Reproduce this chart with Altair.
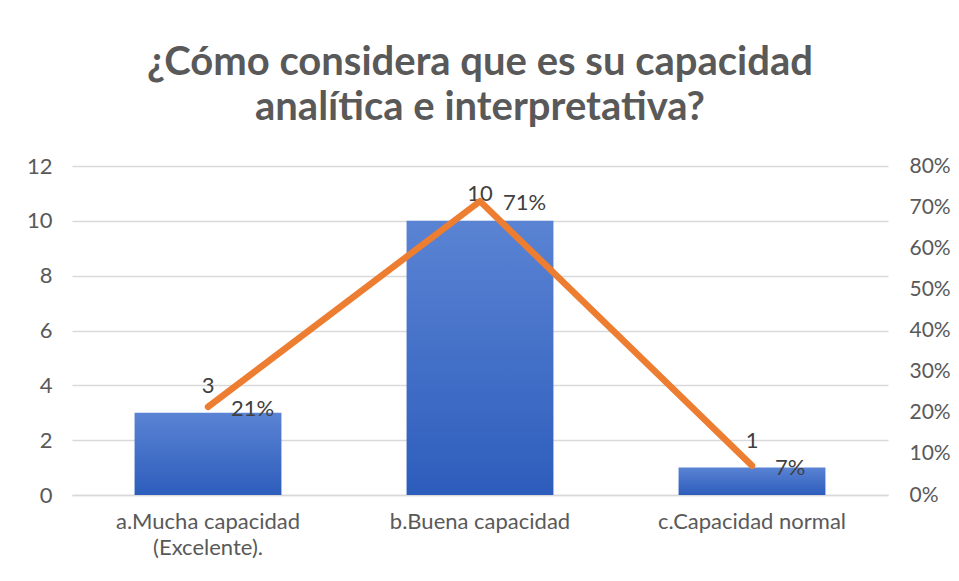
import altair as alt
import pandas as pd

title_lines = ["¿Cómo considera que es su capacidad", "analítica e interpretativa?"]
categories = ["a.Mucha capacidad (Excelente).", "b.Buena capacidad", "c.Capacidad normal"]
counts = [3, 10, 1]
percents = [0.2143, 0.7143, 0.0714]
count_ticks = [0, 2, 4, 6, 8, 10, 12]
pct_ticks = [0, 0.1, 0.2, 0.3, 0.4, 0.5, 0.6, 0.7, 0.8]

df = pd.DataFrame({"cat": categories, "count": counts, "pct": percents})

FONT = "Lato"
GREY = "#595959"
FS = 22

x_enc = alt.X(
    "cat:N",
    sort=categories,
    title=None,
    scale=alt.Scale(paddingInner=0.46, paddingOuter=0.23),
    axis=alt.Axis(
        labelAngle=0,
        labelExpr="split(replace(datum.label, ' (', '|('), '|')",
        labelFont=FONT,
        labelFontSize=FS,
        labelColor=GREY,
        labelPadding=16,
        labelLineHeight=26,
        labelLimit=0,
        ticks=False,
        domain=True,
        domainColor="#d9d9d9",
        domainWidth=1.5,
        grid=False,
    ),
)

bar_base = alt.Chart(df).encode(
    x=x_enc,
    y=alt.Y(
        "count:Q",
        title=None,
        scale=alt.Scale(domain=[0, 12]),
        axis=alt.Axis(
            values=count_ticks,
            labelFont=FONT,
            labelFontSize=FS,
            labelColor=GREY,
            labelPadding=20,
            ticks=False,
            domain=False,
            grid=True,
            gridColor="#d9d9d9",
            gridWidth=1.5,
        ),
    ),
)

bars = bar_base.mark_bar(
    color=alt.Gradient(
        gradient="linear",
        stops=[
            alt.GradientStop(color="#5a83d3", offset=0),
            alt.GradientStop(color="#2d5dbc", offset=1),
        ],
        x1=0, x2=0, y1=0, y2=1,
    )
)

count_labels = bar_base.mark_text(
    font=FONT, fontSize=FS, color="#404040", dy=-27, baseline="middle", align="center"
).encode(text="count:Q")

line_base = alt.Chart(df).encode(
    x=alt.X("cat:N", sort=categories),
    y=alt.Y(
        "pct:Q",
        title=None,
        scale=alt.Scale(domain=[0, 0.8]),
        axis=alt.Axis(
            orient="right",
            values=pct_ticks,
            format=".0%",
            labelFont=FONT,
            labelFontSize=21,
            labelColor=GREY,
            labelPadding=21,
            labelLimit=0,
            ticks=False,
            domain=False,
            grid=False,
        ),
    ),
)

line = line_base.mark_line(color="#ed7d31", strokeWidth=6.5, strokeCap="round", strokeJoin="round")

pct_labels = line_base.mark_text(
    font=FONT, fontSize=FS, color="#404040", dx=23, dy=2, baseline="middle", align="left"
).encode(text=alt.Text("pct:Q", format=".0%"))

chart = (
    alt.layer(
        alt.layer(bars, count_labels),
        alt.layer(line, pct_labels),
    )
    .resolve_scale(y="independent")
    .properties(
        width=816,
        height=329,
        autosize=alt.AutoSizeParams(type="none"),
        padding={"left": 64, "top": 158, "right": 63, "bottom": 78},
        title=alt.TitleParams(
            text=title_lines,
            font=FONT,
            fontSize=40,
            fontWeight="bold",
            color=GREY,
            anchor="middle",
            offset=27,
            lineHeight=45,
        ),
    )
    .configure_view(stroke=None)
)

chart.save("out.html", embed_options={"renderer": "svg", "actions": False})
